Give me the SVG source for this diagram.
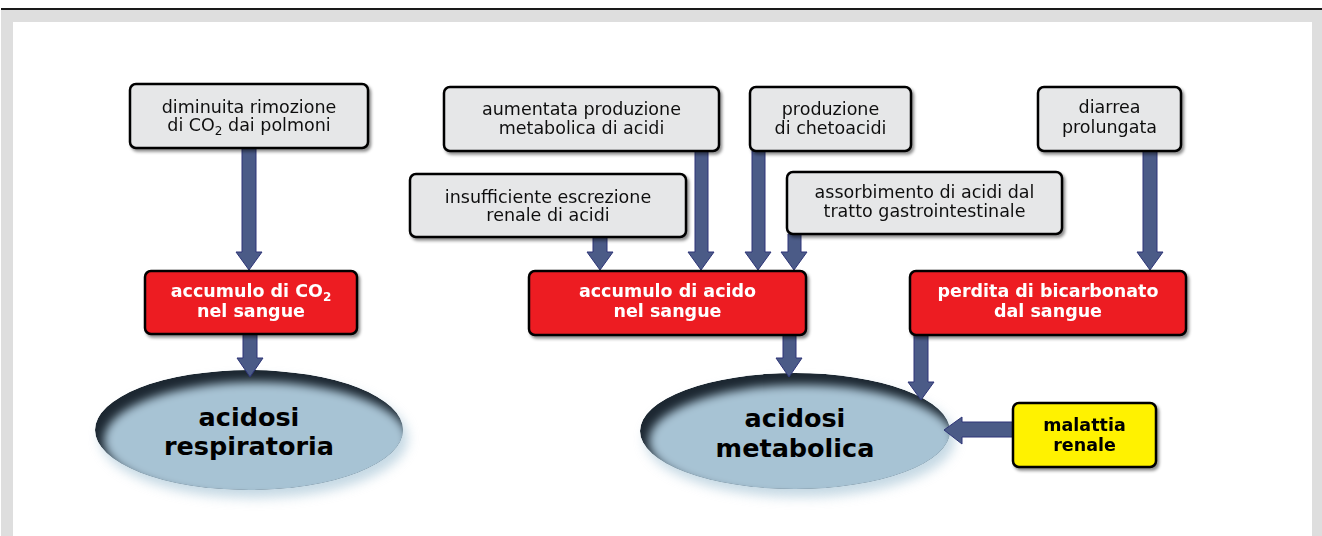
<svg xmlns="http://www.w3.org/2000/svg" width="1322" height="536" viewBox="0 0 1322 536">
<style>
.gb{fill:#e6e7e8;stroke:#000;stroke-width:2.5}
.rb{fill:#ed1c24;stroke:#000;stroke-width:2.5}
.yb{fill:#fff200;stroke:#000;stroke-width:2.5}
.gt{font-family:"DejaVu Sans",sans-serif;font-size:17.5px;fill:#111;text-anchor:middle}
.wt{font-family:"DejaVu Sans",sans-serif;font-weight:bold;font-size:17.5px;fill:#fff;text-anchor:middle}
.bt{font-family:"DejaVu Sans",sans-serif;font-weight:bold;font-size:17.5px;fill:#000;text-anchor:middle}
.et{font-family:"DejaVu Sans",sans-serif;font-weight:bold;font-size:25.5px;fill:#000;text-anchor:middle}
.ar{fill:#4b5b87;stroke:#2e3578;stroke-width:1}
.sub{font-size:12px}
</style>
<defs>
<filter id="sh" x="-10%" y="-20%" width="125%" height="150%">
<feDropShadow dx="2" dy="2.5" stdDeviation="1.5" flood-color="#000" flood-opacity="0.45"/>
</filter>
<filter id="bl" x="-20%" y="-20%" width="140%" height="140%"><feGaussianBlur stdDeviation="5"/></filter>
<filter id="gl" x="-20%" y="-30%" width="140%" height="160%"><feGaussianBlur stdDeviation="6"/></filter>
<clipPath id="c1"><ellipse cx="249" cy="430" rx="154" ry="60"/></clipPath>
<clipPath id="c2"><ellipse cx="795" cy="431" rx="155" ry="58"/></clipPath>
</defs>
<rect x="0" y="0" width="1322" height="536" fill="#fff"/>
<rect x="1" y="10" width="1321" height="526" fill="#dedede"/>
<rect x="1" y="8" width="1321" height="2" fill="#1a1a1a"/>
<rect x="13" y="22" width="1299" height="514" fill="#fff"/>

<g id="ell-respiratoria">
<ellipse cx="254" cy="438" rx="154" ry="60" fill="#9fbfd2" opacity="0.6" filter="url(#gl)"/>
<g clip-path="url(#c1)">
<ellipse cx="249" cy="430" rx="154" ry="60" fill="#1c2731"/>
<ellipse cx="256" cy="440" rx="152" ry="58" fill="#a7c3d4" filter="url(#bl)"/>
</g>
<text class="et" x="249" y="426">acidosi</text>
<text class="et" x="249" y="455">respiratoria</text>
</g>

<g id="ell-metabolica">
<ellipse cx="800" cy="439" rx="155" ry="58" fill="#9fbfd2" opacity="0.6" filter="url(#gl)"/>
<g clip-path="url(#c2)">
<ellipse cx="795" cy="431" rx="155" ry="58" fill="#1c2731"/>
<ellipse cx="802" cy="441" rx="153" ry="56" fill="#a7c3d4" filter="url(#bl)"/>
</g>
<text class="et" x="795" y="427">acidosi</text>
<text class="et" x="795" y="457">metabolica</text>
</g>

<g id="connectors">
<path class="ar" d="M242,148 V252 H236 L249,270 L262,252 H256 V148 Z"/>
<path class="ar" d="M243,334 V358 H237 L250,377 L263,358 H257 V334 Z"/>
<path class="ar" d="M593,237 V252 H587 L600,270 L613,252 H607 V237 Z"/>
<path class="ar" d="M695,151 V252 H688 L701,270 L714,252 H708 V151 Z"/>
<path class="ar" d="M752,151 V252 H745 L758,270 L771,252 H765 V151 Z"/>
<path class="ar" d="M788,234 V252 H781 L794,270 L807,252 H801 V234 Z"/>
<path class="ar" d="M1143,151 V252 H1137 L1150,270 L1163,252 H1157 V151 Z"/>
<path class="ar" d="M783,335 V358 H776 L789,377 L802,358 H796 V335 Z"/>
<path class="ar" d="M914,335 V382 H908 L921,400 L934,382 H928 V335 Z"/>
<path class="ar" d="M1013,422 H962 V417 L944,430 L962,444 V437 H1013 Z"/>
</g>

<g id="n-diminuita" filter="url(#sh)">
<rect class="gb" x="130" y="84" width="238" height="64" rx="6"/>
<text class="gt" x="249" y="113">diminuita rimozione</text>
<text class="gt" x="249" y="131">di CO<tspan class="sub" dy="4">2</tspan><tspan dy="-4"> dai polmoni</tspan></text>
</g>

<g id="n-aumentata" filter="url(#sh)">
<rect class="gb" x="444" y="87" width="275" height="64" rx="6"/>
<text class="gt" x="581.5" y="115">aumentata produzione</text>
<text class="gt" x="581.5" y="134">metabolica di acidi</text>
</g>

<g id="n-insufficiente" filter="url(#sh)">
<rect class="gb" x="410" y="174" width="276" height="63" rx="6"/>
<text class="gt" x="548" y="203">insufficiente escrezione</text>
<text class="gt" x="548" y="221">renale di acidi</text>
</g>

<g id="n-chetoacidi" filter="url(#sh)">
<rect class="gb" x="750" y="87" width="161" height="64" rx="6"/>
<text class="gt" x="830.5" y="115">produzione</text>
<text class="gt" x="830.5" y="134">di chetoacidi</text>
</g>

<g id="n-assorbimento" filter="url(#sh)">
<rect class="gb" x="787" y="172" width="275" height="62" rx="6"/>
<text class="gt" x="924.5" y="198">assorbimento di acidi dal</text>
<text class="gt" x="924.5" y="217">tratto gastrointestinale</text>
</g>

<g id="n-diarrea" filter="url(#sh)">
<rect class="gb" x="1038" y="87" width="143" height="64" rx="6"/>
<text class="gt" x="1109.5" y="113">diarrea</text>
<text class="gt" x="1109.5" y="133">prolungata</text>
</g>

<g id="n-accumulo-co2" filter="url(#sh)">
<rect class="rb" x="145" y="271" width="212" height="63" rx="6"/>
<text class="wt" x="251" y="297">accumulo di CO<tspan class="sub" dy="4">2</tspan></text>
<text class="wt" x="251" y="317">nel sangue</text>
</g>

<g id="n-accumulo-acido" filter="url(#sh)">
<rect class="rb" x="529" y="271" width="277" height="64" rx="6"/>
<text class="wt" x="667.5" y="297">accumulo di acido</text>
<text class="wt" x="667.5" y="317">nel sangue</text>
</g>

<g id="n-perdita" filter="url(#sh)">
<rect class="rb" x="910" y="271" width="276" height="64" rx="6"/>
<text class="wt" x="1048" y="297">perdita di bicarbonato</text>
<text class="wt" x="1048" y="317">dal sangue</text>
</g>

<g id="n-malattia" filter="url(#sh)">
<rect class="yb" x="1013" y="403" width="143" height="64" rx="6"/>
<text class="bt" x="1084.5" y="431">malattia</text>
<text class="bt" x="1084.5" y="451">renale</text>
</g>
</svg>
